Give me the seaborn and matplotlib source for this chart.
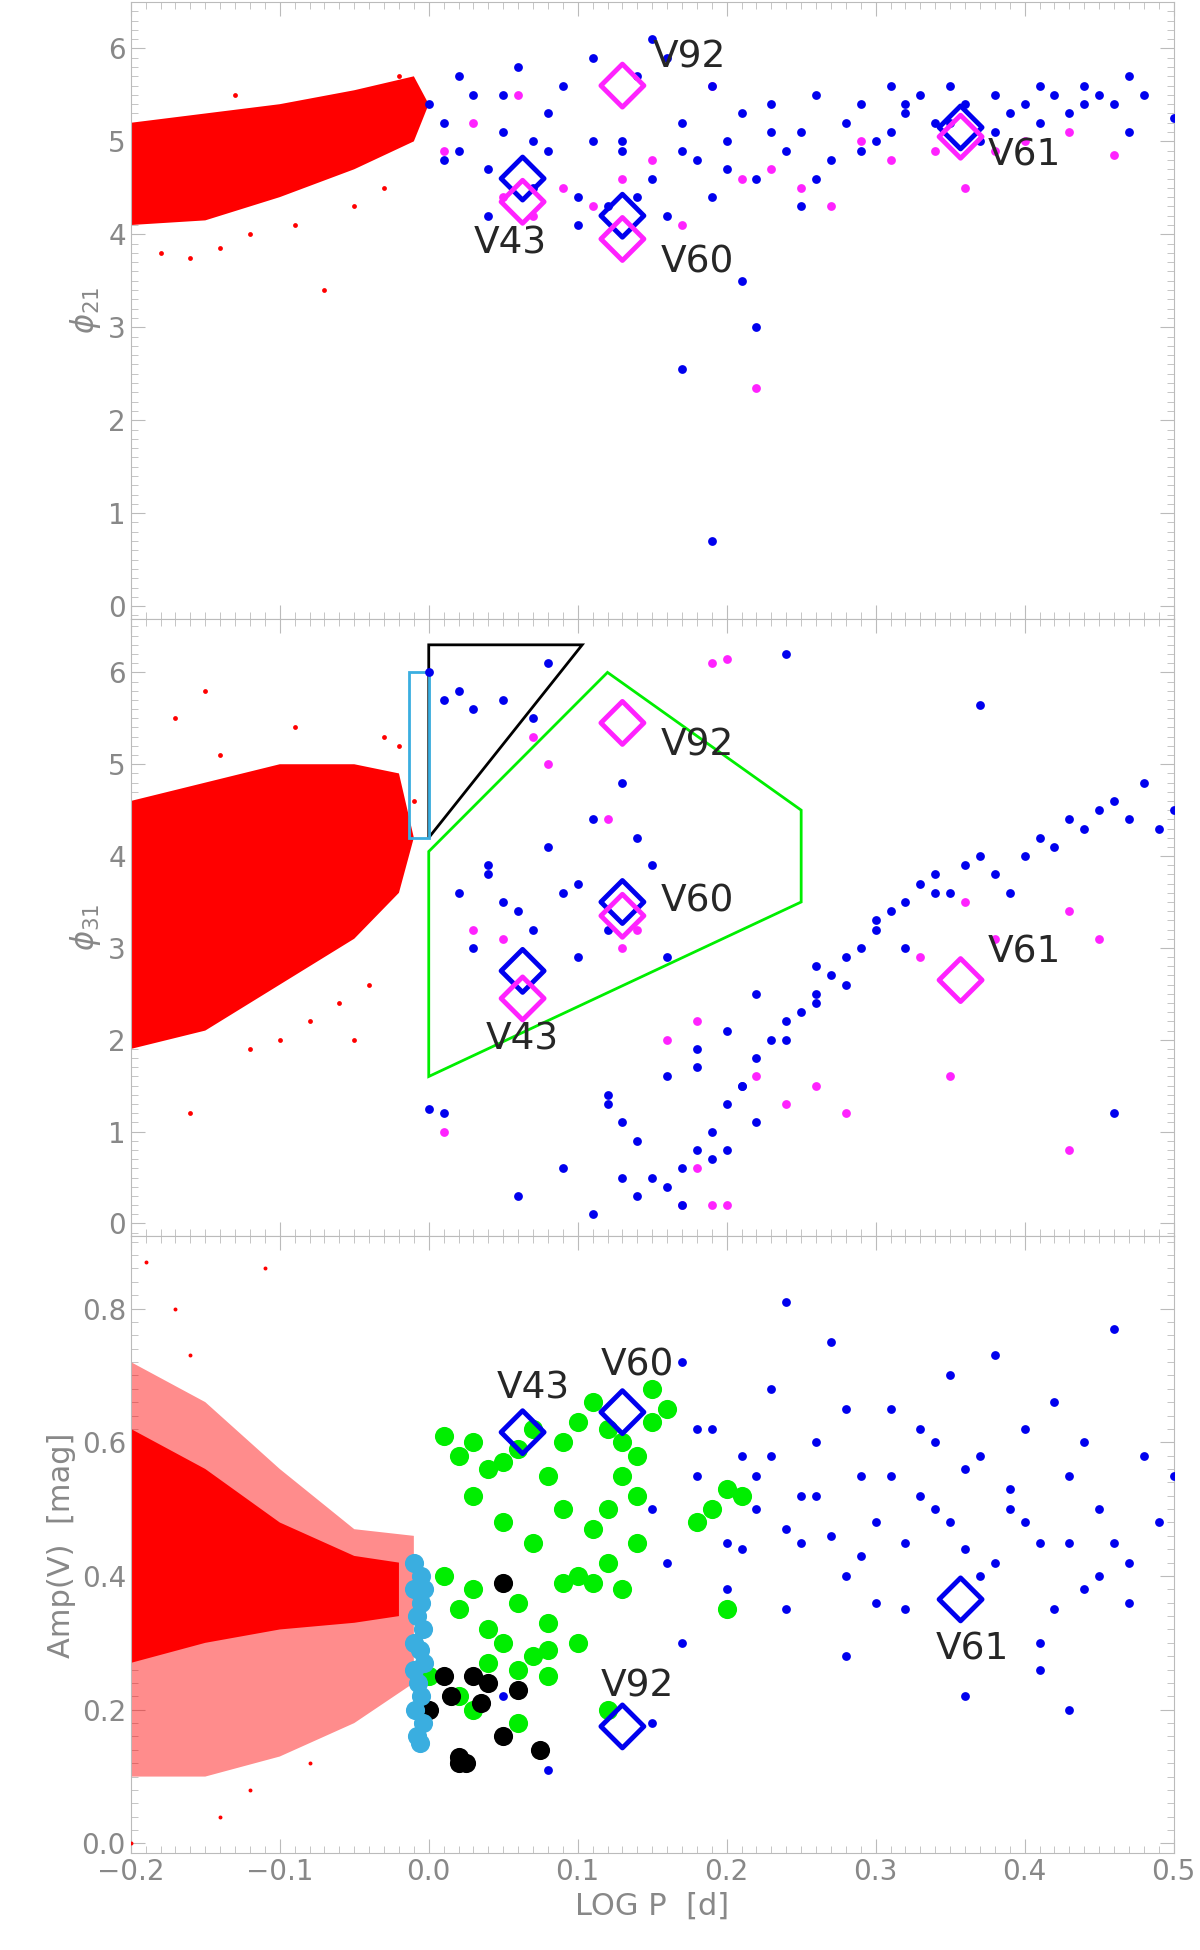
import matplotlib
matplotlib.use("Agg")
import matplotlib.pyplot as plt
import numpy as np
import pandas as pd
import seaborn as sns
from matplotlib.ticker import MultipleLocator

# ---------------- data ----------------
# dense red clouds, outlined as polygons (logP, value)
red21_poly = [(-0.2, 4.1), (-0.15, 4.15), (-0.1, 4.4), (-0.05, 4.7), (-0.01, 5.0), (0.0, 5.4),
              (-0.01, 5.7), (-0.05, 5.55), (-0.1, 5.4), (-0.15, 5.3), (-0.2, 5.2)]
red21_x = [-0.18, -0.16, -0.14, -0.12, -0.09, -0.07, -0.05, -0.13, -0.03, -0.02]
red21_y = [3.8, 3.75, 3.85, 4.0, 4.1, 3.4, 4.3, 5.5, 4.5, 5.7]

red31_poly = [(-0.2, 1.9), (-0.15, 2.1), (-0.1, 2.6), (-0.05, 3.1), (-0.02, 3.6), (-0.01, 4.2),
              (-0.02, 4.9), (-0.05, 5.0), (-0.1, 5.0), (-0.15, 4.8), (-0.2, 4.6)]
red31_x = [-0.17, -0.14, -0.12, -0.1, -0.08, -0.06, -0.04, -0.03, -0.02, -0.16, -0.15, -0.05, -0.01, -0.09]
red31_y = [5.5, 5.1, 1.9, 2.0, 2.2, 2.4, 2.6, 5.3, 5.2, 1.2, 5.8, 2.0, 4.6, 5.4]

redA_core = [(-0.2, 0.27), (-0.15, 0.3), (-0.1, 0.32), (-0.05, 0.33), (-0.02, 0.34), (-0.02, 0.42),
             (-0.05, 0.43), (-0.1, 0.48), (-0.15, 0.56), (-0.2, 0.62)]
redA_halo = [(-0.2, 0.1), (-0.15, 0.1), (-0.1, 0.13), (-0.05, 0.18), (-0.01, 0.24), (-0.01, 0.46),
             (-0.05, 0.47), (-0.1, 0.56), (-0.15, 0.66), (-0.2, 0.72)]
redA_x = [-0.19, -0.17, -0.14, -0.12, -0.2, -0.16, -0.11, -0.08]
redA_y = [0.87, 0.8, 0.04, 0.08, 0.0, 0.73, 0.86, 0.12]

blue21_x = [0.0, 0.01, 0.02, 0.03, 0.04, 0.05, 0.06, 0.07, 0.08, 0.09, 0.1, 0.11, 0.12, 0.13, 0.14, 0.15,
            0.16, 0.17, 0.18, 0.19, 0.2, 0.21, 0.22, 0.23, 0.24, 0.25, 0.26, 0.27, 0.28, 0.29, 0.3, 0.31,
            0.32, 0.33, 0.34, 0.35, 0.36, 0.37, 0.38, 0.39, 0.4, 0.41, 0.42, 0.43, 0.44, 0.45, 0.46, 0.47,
            0.48, 0.5, 0.02, 0.05, 0.08, 0.11, 0.14, 0.17, 0.2, 0.23, 0.26, 0.29, 0.32, 0.35, 0.38, 0.41,
            0.44, 0.47, 0.01, 0.07, 0.13, 0.19, 0.25, 0.31, 0.15, 0.17, 0.21, 0.22, 0.19, 0.04, 0.1, 0.16]
blue21_y = [5.4, 5.2, 4.9, 5.5, 4.7, 5.1, 5.8, 4.5, 5.3, 5.6, 4.4, 5.0, 4.3, 4.9, 5.7, 4.6,
            4.2, 5.2, 4.8, 4.4, 5.0, 5.3, 4.6, 5.4, 4.9, 5.1, 5.5, 4.8, 5.2, 5.4, 5.0, 5.6,
            5.3, 5.5, 5.2, 5.6, 5.4, 5.0, 5.5, 5.3, 5.4, 5.6, 5.5, 5.3, 5.6, 5.5, 5.4, 5.7,
            5.5, 5.25, 5.7, 5.5, 4.9, 5.9, 4.4, 4.9, 4.7, 5.1, 4.6, 4.9, 5.4, 5.2, 5.1, 5.2,
            5.4, 5.1, 4.8, 5.0, 5.0, 5.6, 4.3, 5.1, 6.1, 2.55, 3.5, 3.0, 0.7, 4.2, 4.1, 5.9]
mag21_x = [0.01, 0.03, 0.05, 0.07, 0.09, 0.11, 0.13, 0.15, 0.17, 0.19, 0.21, 0.23, 0.25, 0.27,
           0.29, 0.31, 0.34, 0.36, 0.38, 0.4, 0.43, 0.46, 0.22, 0.06]
mag21_y = [4.9, 5.2, 4.4, 4.2, 4.5, 4.3, 4.6, 4.8, 4.1, 5.6, 4.6, 4.7, 4.5, 4.3,
           5.0, 4.8, 4.9, 4.5, 4.9, 5.0, 5.1, 4.85, 2.35, 5.5]

blue31_x = [0.0, 0.01, 0.02, 0.03, 0.05, 0.07, 0.08, 0.02, 0.04, 0.06, 0.08, 0.1, 0.12, 0.14, 0.03, 0.05,
            0.09, 0.11, 0.13, 0.15, 0.16, 0.18, 0.21, 0.12, 0.13, 0.14, 0.07, 0.1, 0.04, 0.01,
            0.16, 0.17, 0.18, 0.19, 0.2, 0.21, 0.22, 0.23, 0.24, 0.25, 0.26, 0.27, 0.28, 0.29, 0.3, 0.31,
            0.32, 0.33, 0.34, 0.35, 0.36, 0.37, 0.38, 0.39, 0.4, 0.41, 0.42, 0.43, 0.44, 0.45, 0.46, 0.47,
            0.48, 0.49, 0.5, 0.18, 0.2, 0.22, 0.24, 0.26, 0.28, 0.3, 0.32, 0.34, 0.2, 0.22, 0.17, 0.15,
            0.14, 0.19, 0.11, 0.12, 0.16, 0.24, 0.26, 0.37, 0.46, 0.09, 0.13, 0.0, 0.06]
blue31_y = [6.0, 5.7, 5.8, 5.6, 5.7, 5.5, 6.1, 3.6, 3.9, 3.4, 4.1, 3.7, 3.2, 4.2, 3.0, 3.5,
            3.6, 4.4, 4.8, 3.9, 2.9, 1.9, 1.5, 1.3, 1.1, 0.9, 3.2, 2.9, 3.8, 1.2,
            0.4, 0.6, 0.8, 1.0, 1.3, 1.5, 1.8, 2.0, 2.2, 2.3, 2.5, 2.7, 2.9, 3.0, 3.2, 3.4,
            3.5, 3.7, 3.8, 3.6, 3.9, 4.0, 3.8, 3.6, 4.0, 4.2, 4.1, 4.4, 4.3, 4.5, 4.6, 4.4,
            4.8, 4.3, 4.5, 1.7, 2.1, 2.5, 2.0, 2.8, 2.6, 3.3, 3.0, 3.6, 0.8, 1.1, 0.2, 0.5,
            0.3, 0.7, 0.1, 1.4, 1.6, 6.2, 2.4, 5.65, 1.2, 0.6, 0.5, 1.25, 0.3]
mag31_x = [0.07, 0.08, 0.01, 0.03, 0.05, 0.12, 0.13, 0.14, 0.16, 0.18, 0.19, 0.2, 0.22, 0.24, 0.26,
           0.28, 0.19, 0.18, 0.33, 0.36, 0.38, 0.43, 0.45, 0.43, 0.35, 0.17, 0.2]
mag31_y = [5.3, 5.0, 1.0, 3.2, 3.1, 4.4, 3.0, 3.2, 2.0, 2.2, 6.1, 6.15, 1.6, 1.3, 1.5,
           1.2, 0.2, 0.6, 2.9, 3.5, 3.1, 3.4, 3.1, 0.8, 1.6, 0.2, 0.2]

blueA_x = [0.15, 0.17, 0.18, 0.19, 0.2, 0.21, 0.22, 0.23, 0.24, 0.25, 0.26, 0.27, 0.28, 0.29, 0.3, 0.31,
           0.32, 0.33, 0.34, 0.35, 0.36, 0.37, 0.38, 0.39, 0.4, 0.41, 0.42, 0.43, 0.44, 0.45, 0.46, 0.47,
           0.48, 0.49, 0.5, 0.16, 0.18, 0.2, 0.22, 0.24, 0.26, 0.28, 0.3, 0.32, 0.34, 0.36, 0.38, 0.4,
           0.42, 0.44, 0.46, 0.19, 0.21, 0.23, 0.25, 0.27, 0.29, 0.31, 0.33, 0.35, 0.37, 0.39, 0.41, 0.43,
           0.45, 0.47, 0.17, 0.24, 0.28, 0.36, 0.41, 0.43, 0.15, 0.08, 0.05]
blueA_y = [0.5, 0.72, 0.55, 0.62, 0.45, 0.58, 0.5, 0.68, 0.81, 0.45, 0.6, 0.75, 0.4, 0.55, 0.48, 0.65,
           0.35, 0.52, 0.6, 0.7, 0.44, 0.58, 0.73, 0.5, 0.62, 0.45, 0.66, 0.55, 0.38, 0.5, 0.77, 0.42,
           0.58, 0.48, 0.55, 0.42, 0.62, 0.38, 0.55, 0.47, 0.52, 0.65, 0.36, 0.45, 0.5, 0.56, 0.42, 0.48,
           0.35, 0.6, 0.45, 0.5, 0.44, 0.58, 0.52, 0.46, 0.43, 0.55, 0.62, 0.48, 0.4, 0.53, 0.3, 0.45,
           0.4, 0.36, 0.3, 0.35, 0.28, 0.22, 0.26, 0.2, 0.18, 0.11, 0.22]
greenA_x = [0.01, 0.02, 0.03, 0.04, 0.05, 0.06, 0.07, 0.08, 0.09, 0.1, 0.11, 0.12, 0.13, 0.14, 0.15, 0.01,
            0.02, 0.03, 0.04, 0.05, 0.06, 0.07, 0.08, 0.09, 0.1, 0.11, 0.12, 0.13, 0.14, 0.0, 0.02, 0.04,
            0.06, 0.08, 0.1, 0.12, 0.14, 0.16, 0.18, 0.2, 0.21, 0.19, 0.03, 0.05, 0.07, 0.09, 0.06, 0.08,
            0.12, 0.13, 0.15, 0.03, 0.11, 0.2]
greenA_y = [0.61, 0.58, 0.6, 0.56, 0.57, 0.59, 0.62, 0.55, 0.6, 0.63, 0.66, 0.62, 0.6, 0.58, 0.68, 0.4,
            0.35, 0.38, 0.32, 0.3, 0.36, 0.28, 0.33, 0.39, 0.4, 0.47, 0.5, 0.38, 0.45, 0.25, 0.22, 0.27,
            0.18, 0.29, 0.3, 0.42, 0.52, 0.65, 0.48, 0.53, 0.52, 0.5, 0.52, 0.48, 0.45, 0.5, 0.26, 0.25,
            0.2, 0.55, 0.63, 0.2, 0.39, 0.35]
blackA_x = [0.01, 0.015, 0.02, 0.03, 0.035, 0.04, 0.05, 0.06, 0.075, 0.02, 0.025, 0.05, 0.0]
blackA_y = [0.25, 0.22, 0.12, 0.25, 0.21, 0.24, 0.16, 0.23, 0.14, 0.13, 0.12, 0.39, 0.2]
cyanA_x = [-0.01, -0.005, -0.01, -0.005, -0.008, -0.004, -0.01, -0.006, -0.003, -0.01, -0.007,
           -0.005, -0.009, -0.004, -0.008, -0.006, -0.003]
cyanA_y = [0.42, 0.4, 0.38, 0.36, 0.34, 0.32, 0.3, 0.29, 0.27, 0.26, 0.24, 0.22, 0.2, 0.18, 0.16,
           0.15, 0.38]

# highlighted stars: name, logP, phi21 (blue, magenta), phi31 (blue, magenta), Amp
star_names = ["V43", "V60", "V61", "V92"]
star_logp = [0.063, 0.13, 0.357, 0.13]
star_p21_blue = [4.6, 4.2, 5.15, None]
star_p21_mag = [4.35, 3.95, 5.05, 5.6]
star_p31_blue = [2.75, 3.5, None, None]
star_p31_mag = [2.45, 3.35, 2.65, 5.45]
star_amp = [0.615, 0.645, 0.365, 0.175]
lab21 = [(0.055, 3.9), (0.18, 3.7), (0.4, 4.85), (0.175, 5.9)]
lab31 = [(0.063, 2.0), (0.18, 3.5), (0.4, 2.95), (0.18, 5.2)]
labA = [(0.07, 0.68), (0.14, 0.715), (0.365, 0.29), (0.14, 0.235)]

tri_poly = [(0.0, 4.2), (0.0, 6.3), (0.103, 6.3)]
cyan_box = [(-0.013, 4.2), (0.0, 4.2), (0.0, 6.0), (-0.013, 6.0)]
green_poly = [(0.0, 4.05), (0.12, 6.0), (0.25, 4.5), (0.25, 3.5), (0.0, 1.6)]

# ---------------- plotting ----------------
sns.set_style("ticks")
plt.rcParams["font.family"] = ["DejaVu Sans"]
BLUE, MAG, RED, GREEN, CYAN = "#0000ee", "#ff22ff", "#ff0000", "#00ee00", "#3aaee0"
GRAY = "#888888"

fig = plt.figure(figsize=(12, 19.5), dpi=100)
h = 0.3165
ax1 = fig.add_axes([0.109, 0.999 - h, 0.869, h])
ax2 = fig.add_axes([0.109, 0.999 - 2 * h, 0.869, h])
ax3 = fig.add_axes([0.109, 0.999 - 3 * h, 0.869, h])


def poly(ax, pts, closed=True, fill=None, edge=None, lw=2, alpha=1.0):
    p = plt.Polygon(pts, closed=closed, facecolor=fill if fill else "none",
                    edgecolor=edge if edge else "none", lw=lw, alpha=alpha, zorder=2)
    ax.add_patch(p)


def scatter(ax, x, y, color, s=40):
    sns.scatterplot(x=x, y=y, color=color, s=s, linewidth=0, ax=ax, zorder=3)


def diamonds(ax, xs, ys, color):
    pts = [(x, y) for x, y in zip(xs, ys) if y is not None]
    if pts:
        d = pd.DataFrame(pts, columns=["x", "y"])
        ax.scatter(d.x, d.y, marker="D", s=480, facecolor="none", edgecolor=color, lw=3.5, zorder=5)


# panel 1: phi21
poly(ax1, red21_poly, fill=RED)
scatter(ax1, red21_x, red21_y, RED, s=12)
scatter(ax1, mag21_x, mag21_y, MAG)
scatter(ax1, blue21_x, blue21_y, BLUE)
diamonds(ax1, star_logp, star_p21_blue, BLUE)
diamonds(ax1, star_logp, star_p21_mag, MAG)
for n, (lx, ly) in zip(star_names, lab21):
    ax1.text(lx, ly, n, fontsize=27, ha="center", va="center", zorder=6)
ax1.set_ylim(-0.14, 6.5)
ax1.set_ylabel(r"$\phi_{21}$", fontsize=22, color=GRAY)

# panel 2: phi31
poly(ax2, red31_poly, fill=RED)
scatter(ax2, red31_x, red31_y, RED, s=12)
scatter(ax2, mag31_x, mag31_y, MAG)
scatter(ax2, blue31_x, blue31_y, BLUE)
poly(ax2, tri_poly, edge="black")
poly(ax2, cyan_box, edge=CYAN)
poly(ax2, green_poly, edge=GREEN)
diamonds(ax2, star_logp, star_p31_blue, BLUE)
diamonds(ax2, star_logp, star_p31_mag, MAG)
for n, (lx, ly) in zip(star_names, lab31):
    ax2.text(lx, ly, n, fontsize=27, ha="center", va="center", zorder=6)
ax2.set_ylim(-0.14, 6.58)
ax2.set_ylabel(r"$\phi_{31}$", fontsize=22, color=GRAY)

# panel 3: amplitude
poly(ax3, redA_halo, fill=RED, alpha=0.45)
poly(ax3, redA_core, fill=RED)
scatter(ax3, redA_x, redA_y, RED, s=8)
scatter(ax3, blueA_x, blueA_y, BLUE)
scatter(ax3, greenA_x, greenA_y, GREEN, s=190)
scatter(ax3, blackA_x, blackA_y, "black", s=190)
scatter(ax3, cyanA_x, cyanA_y, CYAN, s=190)
diamonds(ax3, star_logp, star_amp, BLUE)
for n, (lx, ly) in zip(star_names, labA):
    ax3.text(lx, ly, n, fontsize=27, ha="center", va="center", zorder=6)
ax3.set_ylim(-0.015, 0.908)
ax3.set_ylabel("Amp(V)  [mag]", fontsize=22, color=GRAY)
ax3.set_xlabel("LOG P  [d]", fontsize=22, color=GRAY)
ax3.yaxis.set_major_locator(MultipleLocator(0.2))
ax3.yaxis.set_minor_locator(MultipleLocator(0.02))
ax3.yaxis.set_major_formatter(plt.FuncFormatter(lambda v, p: f"{v:.1f}"))

for ax in (ax1, ax2, ax3):
    ax.set_xlim(-0.2, 0.5)
    ax.xaxis.set_major_locator(MultipleLocator(0.1))
    ax.xaxis.set_minor_locator(MultipleLocator(0.01))
    if ax is not ax3:
        ax.yaxis.set_major_locator(MultipleLocator(1))
        ax.yaxis.set_minor_locator(MultipleLocator(0.1))
        ax.set_xticklabels([])
    ax.tick_params(which="both", direction="in", top=True, right=True, colors="#bbbbbb",
                   labelcolor=GRAY, labelsize=20)
    ax.tick_params(which="major", length=10)
    ax.tick_params(which="minor", length=5)
    for sp in ax.spines.values():
        sp.set_color("#bbbbbb")
ax3.xaxis.set_major_formatter(plt.FuncFormatter(lambda v, p: f"{v:.1f}".replace("-", "\u2212")))

fig.savefig("out.png", dpi=100)
